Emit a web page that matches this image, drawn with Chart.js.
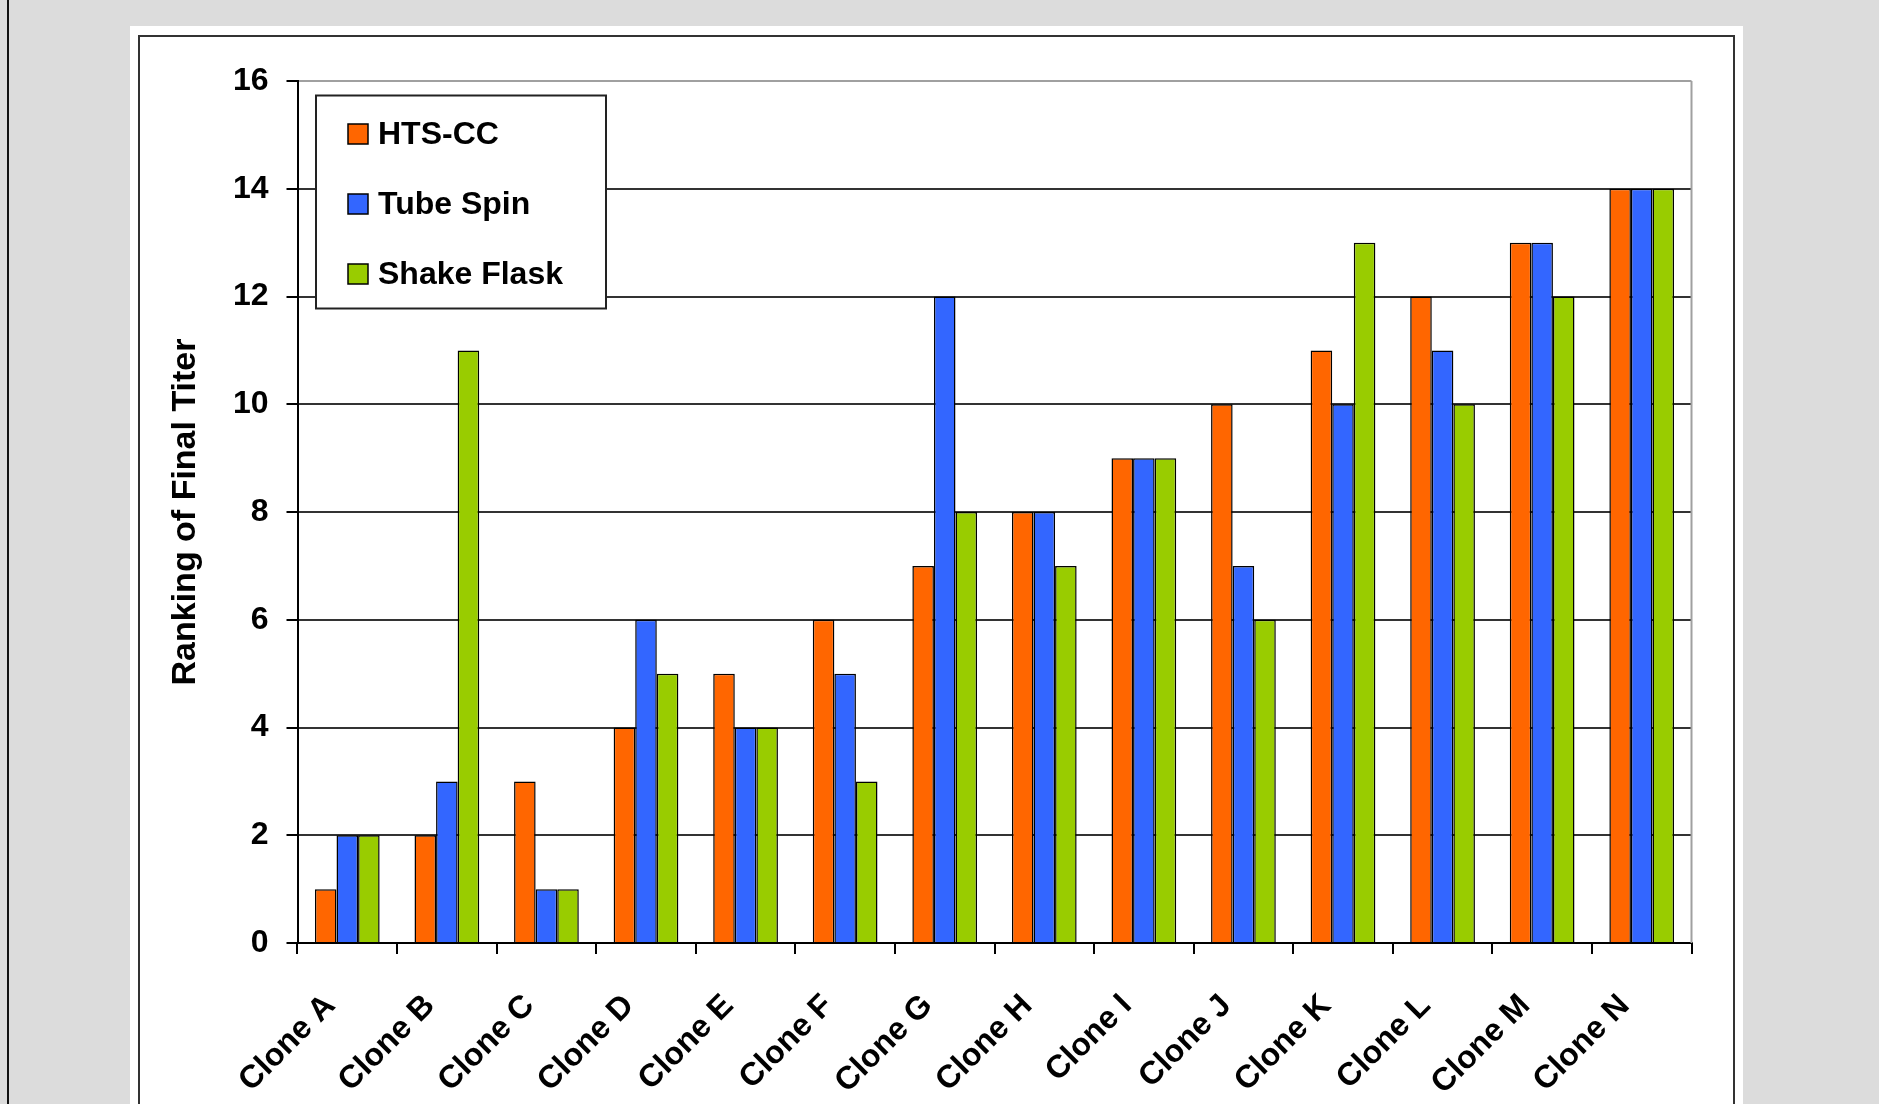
<!DOCTYPE html>
<html>
<head>
<meta charset="utf-8">
<script src="https://cdn.jsdelivr.net/npm/chart.js@4.4.0/dist/chart.umd.min.js"></script>
<style>
  html, body { margin: 0; padding: 0; }
  body { width: 1879px; height: 1104px; background: #dcdcdc; overflow: hidden; position: relative; }
  #linea { position: absolute; left: 7px; top: 0; width: 2px; height: 1104px; background: #111; }
  #hoja { position: absolute; left: 130px; top: 26px; width: 1613px; height: 1078px; background: #fff; }
  #marco { position: absolute; left: 138px; top: 35px; width: 1593px; height: 1100px; border: 2px solid #333; }
  #grafico { position: absolute; left: 0; top: 0; }
</style>
</head>
<body>
<div id="linea"></div>
<div id="hoja"></div>
<div id="marco"><canvas id="grafico" width="1593" height="1067"></canvas></div>
<script>
// Clones evaluados y ranking del titer final en cada sistema de cultivo
const clones = ['Clone A', 'Clone B', 'Clone C', 'Clone D', 'Clone E', 'Clone F', 'Clone G',
                'Clone H', 'Clone I', 'Clone J', 'Clone K', 'Clone L', 'Clone M', 'Clone N'];
const htsCC      = [1, 2, 3, 4, 5, 6, 7, 8, 9, 10, 11, 12, 13, 14];
const tubeSpin   = [2, 3, 1, 6, 4, 5, 12, 8, 9, 7, 10, 11, 13, 14];
const shakeFlask = [2, 11, 1, 5, 4, 3, 8, 7, 9, 6, 13, 10, 12, 14];
const ticksY = [0, 2, 4, 6, 8, 10, 12, 14, 16];

const fuente = "'Liberation Sans', Arial, sans-serif";
Chart.defaults.font.family = fuente;
Chart.defaults.color = '#000';

// Leyenda con recuadro dentro del area del grafico
const leyendaCaja = {
    id: 'leyendaCaja',
    afterDatasetsDraw(chart) {
        const {ctx, chartArea} = chart;
        const x = chartArea.left + 18.5;
        const y = chartArea.top + 14.5;
        const w = 290, h = 213;
        ctx.save();
        ctx.fillStyle = '#fff';
        ctx.fillRect(x, y, w, h);
        ctx.strokeStyle = '#222';
        ctx.lineWidth = 2;
        ctx.strokeRect(x, y, w, h);
        const filas = [38.5, 108.5, 178.5];
        ctx.font = 'bold 32px ' + fuente;
        ctx.textBaseline = 'middle';
        ctx.textAlign = 'left';
        chart.data.datasets.forEach((ds, i) => {
            const cy = y + filas[i];
            ctx.fillStyle = ds.backgroundColor;
            ctx.fillRect(x + 32, cy - 10, 20, 20);
            ctx.strokeStyle = '#000';
            ctx.lineWidth = 1.5;
            ctx.strokeRect(x + 32, cy - 10, 20, 20);
            ctx.fillStyle = '#000';
            ctx.fillText(ds.label, x + 62, cy + 1);
        });
        ctx.restore();
    }
};

// Borde derecho gris del area de trazado
const bordeDerecho = {
    id: 'bordeDerecho',
    beforeDatasetsDraw(chart) {
        const {ctx, chartArea} = chart;
        ctx.save();
        ctx.strokeStyle = '#a0a0a0';
        ctx.lineWidth = 2;
        ctx.beginPath();
        ctx.moveTo(chartArea.right, chartArea.top);
        ctx.lineTo(chartArea.right, chartArea.bottom);
        ctx.stroke();
        ctx.restore();
    }
};

const grafico = document.getElementById('grafico').getContext('2d');
new Chart(grafico, {
    type: 'bar',
    data: {
        labels: clones,
        datasets: [
            { label: 'HTS-CC', data: htsCC, backgroundColor: '#ff6600' },
            { label: 'Tube Spin', data: tubeSpin, backgroundColor: '#3366ff' },
            { label: 'Shake Flask', data: shakeFlask, backgroundColor: '#99cc00' }
        ].map(d => Object.assign(d, {
            borderColor: '#000',
            borderWidth: 1.5,
            categoryPercentage: 0.65,
            barPercentage: 1.0
        }))
    },
    options: {
        responsive: false,
        animation: false,
        layout: { padding: { left: 0, right: 41.5, top: 44, bottom: 0 } },
        plugins: {
            legend: { display: false },
            tooltip: { enabled: false }
        },
        scales: {
            x: {
                afterFit(scale) { scale.height = 161; },
                border: { color: '#000', width: 2 },
                grid: {
                    offset: true,
                    drawOnChartArea: false,
                    drawTicks: true,
                    tickLength: 11,
                    color: '#000',
                    lineWidth: 2
                },
                ticks: {
                    maxRotation: 45,
                    minRotation: 45,
                    autoSkip: false,
                    padding: 33,
                    labelOffset: -17,
                    font: { size: 32, weight: 'bold' }
                }
            },
            y: {
                min: 0,
                max: 16,
                afterFit(scale) { scale.width = 157.5; },
                afterBuildTicks(scale) { scale.ticks = ticksY.map(v => ({ value: v })); },
                border: { color: '#000', width: 2 },
                grid: {
                    color: ctx => (ctx.tick && ctx.tick.value === 16) ? '#a0a0a0' : '#333',
                    tickColor: '#000',
                    lineWidth: 2,
                    tickLength: 11
                },
                ticks: {
                    padding: 18,
                    font: { size: 32, weight: 'bold' }
                },
                title: {
                    display: true,
                    text: 'Ranking of Final Titer',
                    font: { size: 34, weight: 'bold' },
                    padding: { top: 25, bottom: 0 }
                }
            }
        }
    },
    plugins: [bordeDerecho, leyendaCaja]
});
</script>
</body>
</html>
